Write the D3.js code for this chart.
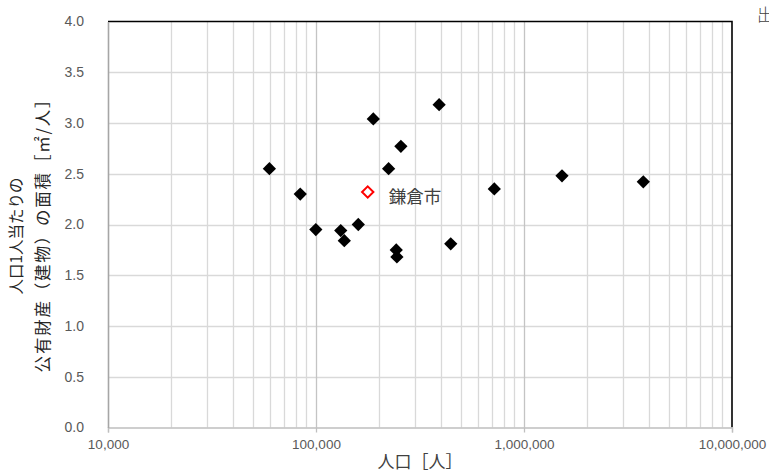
<!DOCTYPE html>
<html><head><meta charset="utf-8">
<script src="https://cdn.jsdelivr.net/npm/d3@7"></script>
<style>
html,body{margin:0;padding:0;background:#fff;}
svg{display:block;}
</style></head>
<body>
<svg id="c" width="769" height="473"></svg>
<script>
// Population [people] of municipalities
const population = [59700, 84000, 99800, 131500, 136800, 159700, 188600, 223400, 255900, 243100, 244900, 390800, 444400, 719800, 1523000, 3746000];
// Public property (buildings) area per capita [m2/person]
const areaPerCapita = [2.55, 2.30, 1.95, 1.94, 1.84, 2.00, 3.04, 2.55, 2.77, 1.75, 1.68, 3.18, 1.81, 2.35, 2.48, 2.42];
// Highlighted city
const highlightName = "鎌倉市";
const highlightPopulation = [177300];
const highlightArea = [2.32];
// Ticks
const xTicks = [10000, 100000, 1000000, 10000000];
const yTicks = [0, 0.5, 1.0, 1.5, 2.0, 2.5, 3.0, 3.5, 4.0];

const svg = d3.select("#c");
const L = 108, R = 732, T = 21.5, B = 427.5;
const x = d3.scaleLog().domain([1e4, 1e7]).range([L, R]);
const y = d3.scaleLinear().domain([0, 4]).range([B, T]);

const fontNum = "'Liberation Sans', Arial, sans-serif";
const fontJP = "'Noto Sans CJK JP', sans-serif";

// minor vertical grid
const minor = [];
for (let d = 1e4; d < 1e7; d *= 10) for (let k = 2; k <= 9; k++) minor.push(d * k);
svg.append("g").selectAll("line").data(minor).join("line")
  .attr("x1", d => Math.round(x(d)) + 0.5).attr("x2", d => Math.round(x(d)) + 0.5)
  .attr("y1", T).attr("y2", B).attr("stroke", "#d9d9d9").attr("stroke-width", 1.3);
// horizontal grid
svg.append("g").selectAll("line").data(yTicks.filter(v => v > 0 && v < 4)).join("line")
  .attr("x1", L).attr("x2", R)
  .attr("y1", d => Math.round(y(d)) + 0.5).attr("y2", d => Math.round(y(d)) + 0.5)
  .attr("stroke", "#d9d9d9").attr("stroke-width", 1.3);
// major vertical grid
svg.append("g").selectAll("line").data(xTicks.slice(1, -1)).join("line")
  .attr("x1", d => Math.round(x(d)) + 0.5).attr("x2", d => Math.round(x(d)) + 0.5)
  .attr("y1", T).attr("y2", B).attr("stroke", "#c4c4c4").attr("stroke-width", 1.3);

// border top/right
svg.append("path").attr("d", `M${L},${T}H${R}V${B}`).attr("fill", "none")
  .attr("stroke", "#000").attr("stroke-width", 1.6);

// x axis
const xa = svg.append("g").attr("transform", `translate(0,${B})`)
  .call(d3.axisBottom(x).tickValues(xTicks).tickFormat(d3.format(",")).tickSize(5).tickPadding(7));
xa.select(".domain").attr("stroke", "#bfbfbf").attr("stroke-width", 1.3);
xa.selectAll(".tick line").attr("stroke", "#bfbfbf").attr("stroke-width", 1.3);
xa.selectAll("text").attr("fill", "#595959").style("font-family", fontNum).style("font-size", "13.5px");

// y axis
const ya = svg.append("g").attr("transform", `translate(${L},0)`)
  .call(d3.axisLeft(y).tickValues(yTicks).tickFormat(d3.format(".1f")).tickSize(0).tickPadding(24));
ya.select(".domain").attr("stroke", "#a6a6a6").attr("stroke-width", 1.6);
ya.selectAll("text").attr("fill", "#595959").style("font-family", fontNum).style("font-size", "14px");

// diamonds
svg.append("g").selectAll("path").data(population.map((p, i) => [p, areaPerCapita[i]])).join("path")
  .attr("d", d3.symbol().type(d3.symbolDiamond2).size(112)())
  .attr("transform", d => `translate(${x(d[0])},${y(d[1])})`)
  .attr("fill", "#000");

svg.append("g").selectAll("path").data(highlightPopulation.map((p, i) => [p, highlightArea[i]])).join("path")
  .attr("d", d3.symbol().type(d3.symbolDiamond2).size(82)())
  .attr("transform", d => `translate(${x(d[0])},${y(d[1])})`)
  .attr("fill", "#fff").attr("stroke", "#ff0000").attr("stroke-width", 2);
svg.append("text").attr("x", x(highlightPopulation[0]) + 21).attr("y", y(highlightArea[0]) + 11)
  .attr("fill", "#404040").style("font-family", fontJP).style("font-size", "17.5px").text(highlightName);

// axis titles
svg.append("text").attr("x", (L + R) / 2).attr("y", 468).attr("text-anchor", "middle")
  .attr("fill", "#404040").style("font-family", fontJP).style("font-size", "17px").text("人口［人］");
const cy = (T + B) / 2;
const yt = svg.append("text").attr("transform", `translate(0,${cy}) rotate(-90)`)
  .attr("text-anchor", "middle").attr("fill", "#262626").style("font-family", fontJP);
yt.append("tspan").attr("x", cy - 236).attr("y", 21.5).style("font-size", "15.5px").text("人口1人当たりの");
yt.append("tspan").attr("x", cy - 231).attr("y", 49).style("font-size", "16.5px").style("letter-spacing", "1.8px")
  .text("公有財産（建物）の面積［㎡/人］");

// clipped note at top-right (cut off by the edge in the original too)
svg.append("text").attr("x", 757).attr("y", 21).attr("fill", "#404040")
  .style("font-family", fontJP).style("font-size", "17px").style("font-weight", "300").text("出典");
</script>
</body></html>
